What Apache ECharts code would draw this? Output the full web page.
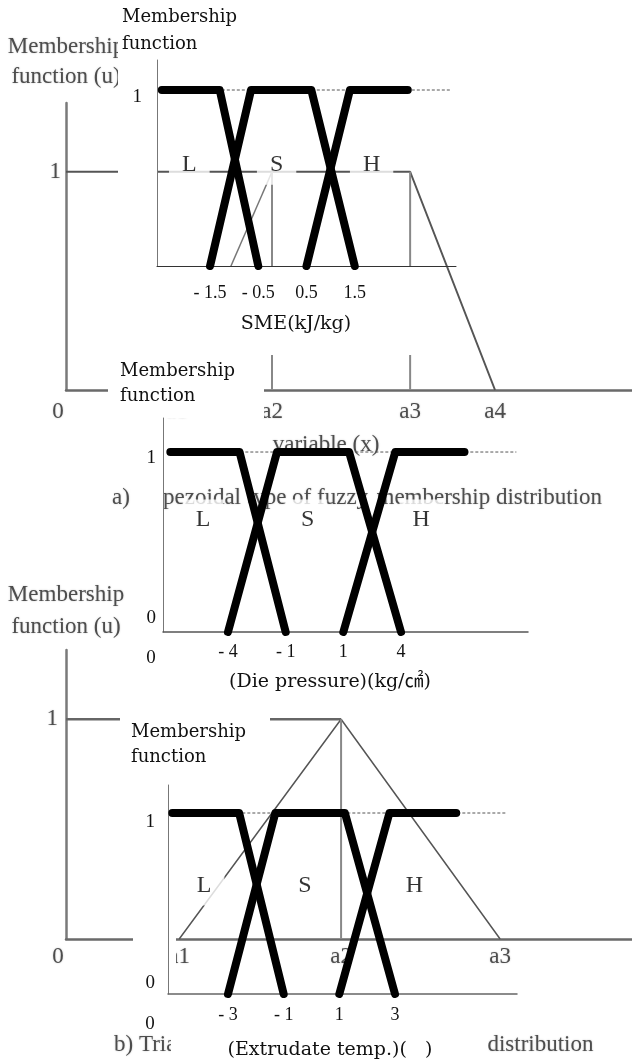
<!DOCTYPE html>
<html>
<head>
<meta charset="utf-8">
<script src="https://cdn.jsdelivr.net/npm/echarts@6/dist/echarts.min.js"></script>
<style>
  html, body { margin: 0; padding: 0; background: #fff; }
  #chart { width: 632px; height: 1063px; }
</style>
</head>
<body>
<div id="chart"></div>
<script>
// Fuzzy membership functions (L / S / H) for three extrusion variables,
// laid over the generic trapezoidal and triangular membership distributions.

// ---- generic trapezoidal distribution (schematic x units)
const trapTicks = [0, 1.96, 3.64, 6.08, 7.58];
const trapTickLabels = ['0', 'a1', 'a2', 'a3', 'a4'];
const trapShape = [[0, 1], [6.08, 1], [7.58, 0]];
const trapRise = [[1.96, 0], [3.64, 1]];
const trapGuideA2 = [[3.64, 0], [3.64, 1]];
const trapGuideA3 = [[6.08, 0], [6.08, 1]];

// ---- generic triangular distribution
const triTicks = [0, 2.0, 4.86, 7.67];
const triTickLabels = ['0', 'a1', 'a2', 'a3'];
const triPlateau = [[0, 1], [4.86, 1]];
const triShape = [[2.0, 0], [4.86, 1], [7.67, 0]];
const triGuideA2 = [[4.86, 0], [4.86, 1]];

// ---- linguistic terms on the schematic input axis
const termTicks = [-1.5, -0.5, 0.5, 1.5];
const smeTickLabels = ['- 1.5', '- 0.5', '0.5', '1.5'];
const dieTickLabels = ['- 4', '- 1', '1', '4'];
const tempTickLabels = ['- 3', '- 1', '1', '3'];
const lowTerm = [[-2.5, 1], [-1.3, 1], [-0.5, 0]];
const standardTerm = [[-1.5, 0], [-0.65, 1], [0.6, 1], [1.5, 0]];
const highTerm = [[0.5, 0], [1.4, 1], [2.6, 1]];
const unitLevel = [[-2.5, 1], [3.5, 1]];
const termNames = ['L', 'S', 'H'];
const termLabelX = [-1.93, -0.12, 1.85];
const termLabelLevel = [0.575, 0.625, 0.6];   // SME, die pressure, temperature

const SERIF = 'Liberation Serif';
const WIDE_SERIF = "'DejaVu Serif', 'Noto Sans CJK JP'";
const BG_TEXT = '#4d4d4d';
const BG_SIZE = 23;
// the generic distributions come from a scanned figure: soft, slightly hazy type
const BG_SOFT = { textShadowColor: 'rgba(0,0,0,0.22)', textShadowBlur: 2 };

const chart = echarts.init(document.getElementById('chart'), null, { renderer: 'canvas' });

const gridBox = (left, top, width, height) =>
  ({ left, top, width, height, containLabel: false, outerBoundsMode: 'none', show: false });

const bgFont = extra => Object.assign(
  { fontFamily: SERIF, fontSize: BG_SIZE, color: BG_TEXT }, BG_SOFT, extra || {});

// background axes
function bgXAxis(gridIndex, ticks, labels, margin, name) {
  return {
    type: 'value', gridIndex, min: 0, max: 10, z: 1,
    axisLine: { show: true, onZero: false, lineStyle: { color: '#6a6a6a', width: 2.5 } },
    axisTick: { show: false }, splitLine: { show: false },
    axisLabel: Object.assign(bgFont({
      customValues: ticks, margin,
      formatter: v => {
        const i = ticks.indexOf(v);
        return i === 0 ? '{z|0}' : labels[i];
      }
    }), { rich: { z: bgFont({ padding: [0, 16, 0, 0] }) } }),
    name, nameLocation: 'middle', nameGap: 43,
    nameTextStyle: bgFont({ padding: [0, 46, 0, 0] })
  };
}
function bgYAxis(gridIndex, margin, nameGap, lineHeight) {
  return {
    type: 'value', gridIndex, min: 0, max: 1.315, z: 1,
    axisLine: { show: true, onZero: false, lineStyle: { color: '#7a7a7a', width: 2.5 } },
    axisTick: { show: false }, splitLine: { show: false },
    axisLabel: bgFont({ customValues: [1], margin }),
    name: 'Membership\nfunction (u)', nameLocation: 'end', nameGap,
    nameTextStyle: bgFont({ lineHeight, align: 'center' })
  };
}

// foreground axes
function fgXAxis(gridIndex, min, max, labels, cfg) {
  const values = cfg.originLabel ? [min].concat(termTicks) : termTicks;
  return {
    type: 'value', gridIndex, min, max, z: 10,
    axisLine: { show: true, onZero: false, lineStyle: { color: cfg.lineColor, width: cfg.lineWidth } },
    axisTick: { show: false }, splitLine: { show: false },
    axisLabel: {
      customValues: values, margin: cfg.margin,
      formatter: v => {
        if (Math.abs(v - min) < 1e-9) return '{o|0}';
        return labels[termTicks.indexOf(v)];
      },
      fontFamily: SERIF, fontSize: 18, color: '#111',
      rich: { o: { padding: cfg.originPad, fontFamily: SERIF, fontSize: 19, color: '#111' } }
    },
    name: cfg.name, nameLocation: 'middle', nameGap: cfg.nameGap,
    nameTextStyle: { fontFamily: WIDE_SERIF, fontSize: 19, color: '#111', padding: [0, cfg.nameShift, 0, 0] }
  };
}
function fgYAxis(gridIndex, max, cfg) {
  return {
    type: 'value', gridIndex, min: 0, max, z: 10,
    axisLine: { show: true, onZero: false, lineStyle: { color: '#777', width: 1 } },
    axisTick: { show: false }, splitLine: { show: false },
    axisLabel: {
      customValues: cfg.values, margin: cfg.margin,
      formatter: v => (v === 1 ? '{hi|1}' : '{lo|0}'),
      fontFamily: SERIF, fontSize: 19, color: '#111',
      rich: {
        hi: { padding: cfg.hiPad, fontFamily: SERIF, fontSize: 19, color: '#111' },
        lo: { padding: cfg.loPad, fontFamily: SERIF, fontSize: 19, color: '#111' }
      }
    }
  };
}

const bgLine = (idx, data, color, width) => ({
  type: 'line', xAxisIndex: idx, yAxisIndex: idx, data, z: 2,
  showSymbol: false, symbol: 'none', silent: true,
  lineStyle: { color, width }
});

function termSeries(idx, level) {
  const thick = data => ({
    type: 'line', xAxisIndex: idx, yAxisIndex: idx, data, z: 12,
    symbol: 'none', silent: true,
    lineStyle: { color: '#000', width: 8, cap: 'round', join: 'round' }
  });
  return [
    {
      type: 'line', xAxisIndex: idx, yAxisIndex: idx, data: unitLevel, z: 11,
      symbol: 'none', silent: true,
      lineStyle: { color: '#555', width: 1, type: [3, 2] }
    },
    {
      type: 'scatter', xAxisIndex: idx, yAxisIndex: idx, z: 13, symbolSize: 0, silent: true,
      data: termNames.map((n, i) => ({ name: n, value: [termLabelX[i], level] })),
      label: {
        show: true, position: 'inside', formatter: '{b}',
        fontFamily: SERIF, fontSize: 24, color: '#000',
        backgroundColor: '#fff', padding: [8, 13]
      }
    },
    thick(lowTerm), thick(standardTerm), thick(highTerm)
  ];
}

const whiteBox = (x, y, width, height) => ({
  type: 'rect', z: 5, silent: true,
  shape: { x, y, width, height }, style: { fill: '#fff' }
});

const captionStyle = bgFont({ fontWeight: 'normal', lineHeight: 26 });
const panelTitleStyle = lh =>
  ({ fontFamily: WIDE_SERIF, fontSize: 18, fontWeight: 'normal', color: '#111', lineHeight: lh });

const option = {
  animation: false,
  backgroundColor: '#fff',
  title: [
    // caption a) is set justified across the panel width
    { text: 'a)', left: 112, top: 485, padding: 0, z: 1, textStyle: captionStyle },
    { text: 'Trapezoidal type of fuzzy', left: 132, top: 485, padding: 0, z: 1, textStyle: captionStyle },
    { text: 'membership distribution', right: 30, top: 485, padding: 0, z: 1, textStyle: captionStyle },
    { text: 'b) Triangular type of fuzzy membership distribution', left: 114, top: 1032, padding: 0, z: 1,
      textStyle: captionStyle },
    { text: 'Membership\nfunction', left: 122, top: 4, padding: 0, z: 15, textStyle: panelTitleStyle(27) },
    { text: 'Membership\nfunction', left: 120, top: 359, padding: 0, z: 15, textStyle: panelTitleStyle(25) },
    { text: 'Membership\nfunction', left: 131, top: 720, padding: 0, z: 15, textStyle: panelTitleStyle(25) }
  ],
  grid: [
    gridBox(66, 103, 566, 287),   // trapezoidal distribution
    gridBox(66, 650, 566, 289),   // triangular distribution
    gridBox(157, 60, 299, 206),   // SME
    gridBox(163, 418, 365, 214),  // die pressure
    gridBox(168, 785, 349, 209)   // extrudate temperature
  ],
  xAxis: [
    bgXAxis(0, trapTicks, trapTickLabels, 10, 'variable (x)'),
    bgXAxis(1, triTicks, triTickLabels, 6, ''),
    fgXAxis(2, -2.6, 3.6, smeTickLabels, {
      lineColor: '#333', lineWidth: 1, margin: 18, name: 'SME(kJ/kg)', nameGap: 49, nameShift: 21
    }),
    fgXAxis(3, -2.627, 3.702, dieTickLabels, {
      lineColor: '#555', lineWidth: 1.5, margin: 11, originLabel: true, originPad: [6, 24, 0, 0],
      name: '(Die pressure)(kg/㎠)', nameGap: 41, nameShift: 31
    }),
    fgXAxis(4, -2.578, 3.692, tempTickLabels, {
      lineColor: '#666', lineWidth: 1.5, margin: 12, originLabel: true, originPad: [9, 36, 0, 0],
      name: '(Extrudate temp.)(   )', nameGap: 47, nameShift: 25
    })
  ],
  yAxis: [
    bgYAxis(0, 5, 11, 30),
    bgYAxis(1, 8, 7, 32),
    fgYAxis(2, 1.1705, { values: [1], margin: 15, hiPad: [14, 0, 0, 0], loPad: [0, 0, 0, 0] }),
    fgYAxis(3, 1.189, { values: [0, 1], margin: 7, hiPad: [12, 0, 0, 0], loPad: [0, 0, 28, 0] }),
    fgYAxis(4, 1.1547, { values: [0, 1], margin: 13, hiPad: [18, 0, 0, 0], loPad: [0, 0, 22, 0] })
  ],
  graphic: {
    elements: [
      whiteBox(118, 0, 338, 60),     // SME panel: title strip
      whiteBox(118, 60, 39, 206),    // SME panel: left margin
      whiteBox(118, 266, 314, 89),   // SME panel: tick-label strip
      whiteBox(108, 355, 156, 63),   // die pressure panel: title
      whiteBox(131, 418, 32, 142),   // die pressure panel: left margin (upper)
      whiteBox(134, 560, 29, 105),   // die pressure panel: left margin (lower)
      whiteBox(120, 700, 150, 85),   // temperature panel: title
      whiteBox(133, 785, 43, 215),   // temperature panel: left margin
      whiteBox(171, 1030, 317, 33)   // temperature panel: axis name
    ]
  },
  series: [
    bgLine(0, trapShape, '#555', 2),
    bgLine(0, trapRise, '#777', 1.5),
    bgLine(0, trapGuideA2, '#888', 2),
    bgLine(0, trapGuideA3, '#888', 2),
    bgLine(1, triPlateau, '#666', 2.5),
    bgLine(1, triShape, '#555', 1.5),
    bgLine(1, triGuideA2, '#888', 2),
    ...termSeries(2, termLabelLevel[0]),
    ...termSeries(3, termLabelLevel[1]),
    ...termSeries(4, termLabelLevel[2])
  ]
};

chart.setOption(option);
</script>
</body>
</html>
